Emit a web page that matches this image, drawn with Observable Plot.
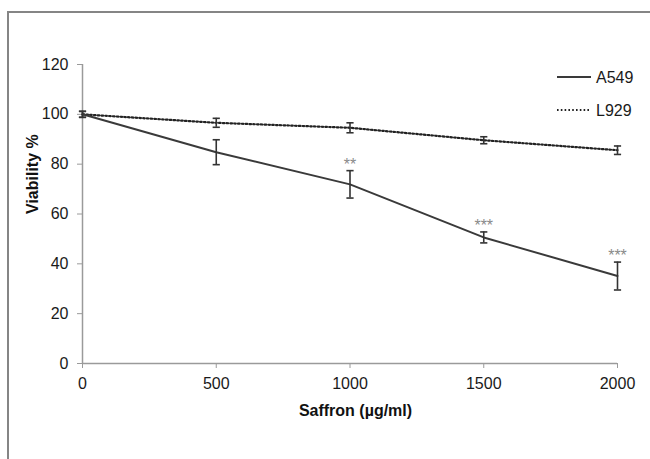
<!DOCTYPE html>
<html>
<head>
<meta charset="utf-8">
<script src="https://cdn.jsdelivr.net/npm/d3@7"></script>
<script src="https://cdn.jsdelivr.net/npm/@observablehq/plot@0.6"></script>
<style>
  html, body { margin: 0; padding: 0; background: #fff; }
  #wrap { position: relative; width: 650px; height: 459px; overflow: hidden; font-family: "Liberation Sans", Arial, sans-serif; }
  #border { position: absolute; left: 7px; top: 11px; right: -5px; bottom: -5px; border-left: 2px solid #858585; border-top: 2px solid #858585; }
  #chart { position: absolute; left: 0; top: 0; }
  #legend { position: absolute; left: 0; top: 0; }
</style>
</head>
<body>
<div id="wrap">
  <div id="border"></div>
  <div id="chart"></div>
  <svg id="legend" width="650" height="459"></svg>
</div>
<script>
// ---- data ----
const doses = [0, 500, 1000, 1500, 2000];
const a549 = [100, 84.8, 71.9, 50.6, 35.1];
const a549Err = [1.2, 5.0, 5.5, 2.2, 5.6];
const a549Sig = ["", "", "**", "***", "***"];
const l929 = [100, 96.6, 94.6, 89.6, 85.6];
const l929Err = [1.2, 1.8, 2.0, 1.4, 1.7];
const seriesNames = ["A549", "L929"];
const xTicks = [0, 500, 1000, 1500, 2000];
const yTicks = [0, 20, 40, 60, 80, 100, 120];
const xTitle = "Saffron (µg/ml)";
const yTitle = "Viability %";

const rowsA = doses.map((x, i) => ({series: "A549", x, v: a549[i], e: a549Err[i], sig: a549Sig[i]}));
const rowsL = doses.map((x, i) => ({series: "L929", x, v: l929[i], e: l929Err[i], sig: ""}));
const rows = rowsL.concat(rowsA);

const capSymbol = {
  draw(ctx, size) {
    const r = Math.sqrt(size / Math.PI);
    ctx.moveTo(-r, 0);
    ctx.lineTo(r, 0);
  }
};

const dotted = "1.6,2.2";

const chart = Plot.plot({
  width: 650,
  height: 459,
  marginLeft: 82,
  marginRight: 33,
  marginTop: 64,
  marginBottom: 96,
  x: {domain: [0, 2000]},
  y: {domain: [0, 120]},
  style: {fontFamily: "'Liberation Sans', Arial, sans-serif", fontSize: "16px", background: "transparent", overflow: "visible"},
  marks: [
    Plot.ruleY([0], {stroke: "#9a9a9a", strokeWidth: 1.5}),
    Plot.ruleX([0], {stroke: "#9a9a9a", strokeWidth: 1.5}),
    Plot.axisX({ticks: xTicks, tickSize: 5, tickPadding: 9, stroke: "#9a9a9a", fill: "#1a1a1a", label: null, fontSize: 16, tickFormat: d => String(d)}),
    Plot.axisY({ticks: yTicks, tickSize: 5, tickPadding: 9, stroke: "#9a9a9a", fill: "#1a1a1a", label: null, fontSize: 16, tickFormat: d => String(d)}),
    Plot.line(rowsL, {x: "x", y: "v", stroke: "#222", strokeWidth: 2.2, strokeDasharray: dotted}),
    Plot.line(rowsA, {x: "x", y: "v", stroke: "#3a3a3a", strokeWidth: 2}),
    Plot.ruleX(rows, {x: "x", y1: d => d.v - d.e, y2: d => d.v + d.e, stroke: "#333", strokeWidth: 1.6}),
    Plot.dot(rows, {x: "x", y: d => d.v + d.e, symbol: capSymbol, r: 3.6, fill: "none", stroke: "#333", strokeWidth: 1.6}),
    Plot.dot(rows, {x: "x", y: d => d.v - d.e, symbol: capSymbol, r: 3.6, fill: "none", stroke: "#333", strokeWidth: 1.6}),
    Plot.text(rowsA, {x: "x", y: d => d.v + d.e, text: "sig", dy: -6, fill: "#8a8a8a", fontSize: 16}),
    Plot.text([yTitle], {frameAnchor: "left", rotate: -90, dx: -50, fontWeight: "bold", fontSize: 16, fill: "#111"}),
    Plot.text([xTitle], {frameAnchor: "bottom", lineAnchor: "top", dy: 41, dx: 5.5, fontWeight: "bold", fontSize: 16, fill: "#111"})
  ]
});
document.getElementById("chart").appendChild(chart);

// ---- legend ----
const lg = d3.select("#legend");
const legendStyles = [
  {dash: null, width: 2, color: "#3a3a3a"},
  {dash: dotted, width: 2.2, color: "#222"}
];
seriesNames.forEach((name, i) => {
  const y = 77 + i * 33;
  lg.append("line").attr("x1", 557).attr("x2", 591).attr("y1", y).attr("y2", y)
    .attr("stroke", legendStyles[i].color).attr("stroke-width", legendStyles[i].width)
    .attr("stroke-dasharray", legendStyles[i].dash);
  lg.append("text").attr("x", 596).attr("y", y).attr("dy", "0.35em")
    .attr("font-family", "'Liberation Sans', Arial, sans-serif").attr("font-size", 16).attr("fill", "#1a1a1a")
    .text(name);
});
</script>
</body>
</html>
